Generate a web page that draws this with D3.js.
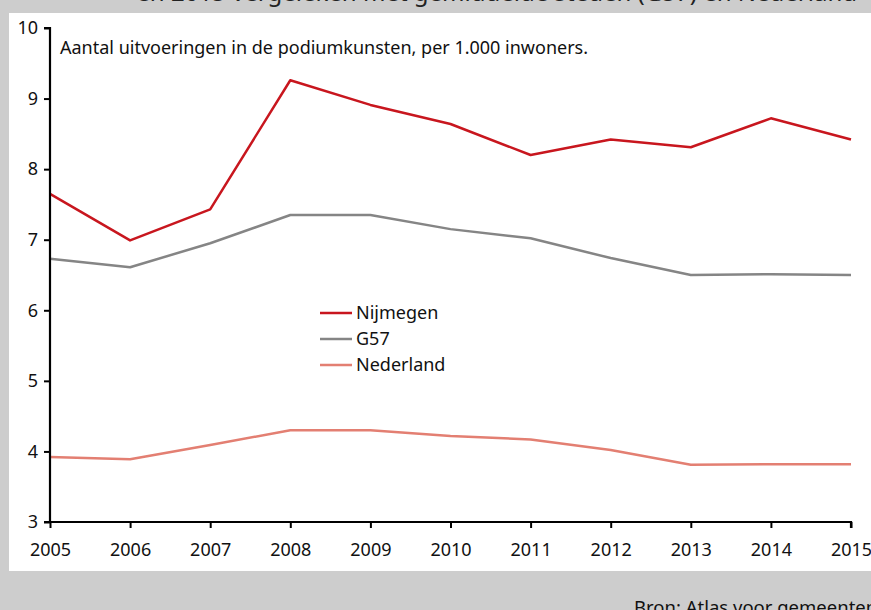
<!DOCTYPE html>
<html>
<head>
<meta charset="utf-8">
<script src="https://cdn.jsdelivr.net/npm/d3@7"></script>
<style>
  body { margin: 0; background: #cdcdcd; }
  svg { display: block; font-family: "Noto Sans", "DejaVu Sans", sans-serif; }
</style>
</head>
<body>
<svg id="chart" width="871" height="610"></svg>
<script>
// data
let years = [2005, 2006, 2007, 2008, 2009, 2010, 2011, 2012, 2013, 2014, 2015];
let nijmegen = [7.65, 6.99, 7.43, 9.26, 8.91, 8.64, 8.20, 8.42, 8.31, 8.72, 8.42];
let g57 = [6.73, 6.61, 6.95, 7.35, 7.35, 7.15, 7.02, 6.74, 6.50, 6.51, 6.50];
let nederland = [3.92, 3.89, 4.09, 4.30, 4.30, 4.22, 4.17, 4.02, 3.81, 3.82, 3.82];
let yTicks = [3, 4, 5, 6, 7, 8, 9, 10];
let seriesNames = ["Nijmegen", "G57", "Nederland"];

let colors = {Nijmegen: "#c8161e", G57: "#858585", Nederland: "#e37f72"};
let series = [
    {name: "Nijmegen", values: nijmegen},
    {name: "G57", values: g57},
    {name: "Nederland", values: nederland}
];

let svg = d3.select("#chart");

// grey frame with white panel
svg.append("rect").attr("x", 0).attr("y", 0).attr("width", 871).attr("height", 610).attr("fill", "#cdcdcd");
svg.append("rect").attr("x", 9).attr("y", 13).attr("width", 862).attr("height", 558).attr("fill", "#fff");

// cut-off title at the top and source at the bottom
svg.append("text")
    .attr("x", 857).attr("y", 1)
    .attr("text-anchor", "end")
    .style("font-size", "24px")
    .style("fill", "#222")
    .text("en 2015 vergeleken met gemiddelde steden (G57) en Nederland");

svg.append("text")
    .attr("x", 634).attr("y", 614)
    .style("font-size", "18.5px")
    .style("fill", "#111")
    .text("Bron: Atlas voor gemeenten");

let x = d3.scaleLinear().domain([2005, 2015]).range([50, 851]);
let y = d3.scaleLinear().domain([3, 10]).range([522, 28]);

// lines
let line = d3.line()
    .x((d, i) => x(years[i]))
    .y(d => y(d));

series.forEach(s => {
    svg.append("path")
        .datum(s.values)
        .attr("d", line)
        .attr("fill", "none")
        .attr("stroke", colors[s.name])
        .attr("stroke-width", 2.5)
        .attr("stroke-linejoin", "round");
});

// axes
let yAxis = svg.append("g")
    .attr("transform", "translate(50,0)")
    .call(d3.axisLeft(y).tickValues(yTicks).tickSize(6).tickPadding(6).tickFormat(d3.format("d")));

let xAxis = svg.append("g")
    .attr("transform", "translate(0,522)")
    .call(d3.axisBottom(x).tickValues(years).tickSize(6).tickPadding(15).tickFormat(d3.format("d")));

[yAxis, xAxis].forEach(a => {
    a.select(".domain").attr("stroke", "#000").attr("stroke-width", 2.2);
    a.selectAll(".tick line").attr("stroke", "#000").attr("stroke-width", 2);
    a.selectAll(".tick text").style("font-size", "18px").style("fill", "#111").style("font-family", "'Noto Sans', 'DejaVu Sans', sans-serif");
});
yAxis.select(".domain").attr("d", "M-6,28H0V522H-6");
xAxis.select(".domain").attr("d", "M50,0H851V6");

// axis caption
svg.append("text")
    .attr("x", 60).attr("y", 54)
    .style("font-size", "18px")
    .style("fill", "#111")
    .text("Aantal uitvoeringen in de podiumkunsten, per 1.000 inwoners.");

// legend
seriesNames.forEach((n, i) => {
    let ly = 313 + i * 26;
    svg.append("line")
        .attr("x1", 320).attr("x2", 352)
        .attr("y1", ly).attr("y2", ly)
        .attr("stroke", colors[n])
        .attr("stroke-width", 2.5);
    svg.append("text")
        .attr("x", 356).attr("y", ly + 6)
        .style("font-size", "18px")
        .style("fill", "#111")
        .text(n);
});
</script>
</body>
</html>
